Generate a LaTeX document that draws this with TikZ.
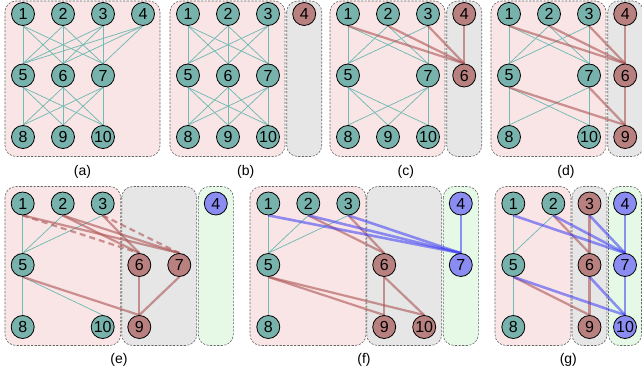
\documentclass[tikz,border=0pt]{standalone}
\usepackage{fontspec}
\setmainfont{Liberation Sans}
\usetikzlibrary{backgrounds}
\definecolor{tealn}{HTML}{78B2AC}
\definecolor{redn}{HTML}{B98080}
\definecolor{bluen}{HTML}{8B8CF2}
\definecolor{tealE}{HTML}{72BAB4}
\definecolor{redE}{HTML}{AD5454}
\definecolor{blueE}{HTML}{3C3CF5}
\definecolor{pinkB}{HTML}{F9E5E5}
\definecolor{grayB}{HTML}{E6E6E6}
\definecolor{greenB}{HTML}{E6F9E6}
\pgfdeclarelayer{bglayer}
\pgfdeclarelayer{edgelayer}
\pgfsetlayers{bglayer,edgelayer,main}
\tikzset{
  vx/.style={circle, draw=black, line width=0.8pt, minimum size=23pt, inner sep=0pt,
    font=\fontsize{16}{16}\selectfont},
  tn/.style={vx, fill=tealn},
  rn/.style={vx, fill=redn},
  bn/.style={vx, fill=bluen},
  grp/.style={draw=black!60, line width=0.6pt, dash pattern=on 2.2pt off 1.4pt, rounded corners=11pt},
  pinkbox/.style={grp, fill=pinkB},
  graybox/.style={grp, fill=grayB},
  greenbox/.style={grp, fill=greenB},
  te/.style={draw=tealE, line width=0.75pt},
  re/.style={draw=redE, line width=2.2pt, draw opacity=0.6},
  red/.style={re, dash pattern=on 6pt off 4pt},
  be/.style={draw=blueE, line width=2.6pt, draw opacity=0.55},
  lab/.style={font=\fontsize{14}{14}\selectfont}
}
\newcommand\myedge[3]{\draw[#1] (#2.south) -- (#3.north);}
\begin{document}
\begin{tikzpicture}[x=1pt,y=-1pt]
\useasboundingbox (0,0) rectangle (642,377);
\clip (0,0) rectangle (642,377);
% ---------- boxes ----------
\begin{pgfonlayer}{bglayer}
\fill[white] (0,0) rectangle (642,377);
\draw[pinkbox] (5,1) rectangle (160,156.5);
\draw[pinkbox] (170,1) rectangle (285,156.5);
\draw[graybox] (286.7,1) rectangle (321.7,156.5);
\draw[pinkbox] (330,1) rectangle (445,156.5);
\draw[graybox] (446.7,1) rectangle (481.7,156.5);
\draw[pinkbox] (491,1) rectangle (606,156.5);
\draw[graybox] (607.7,1) rectangle (643.5,156.5);
\draw[pinkbox] (5,186.5) rectangle (120.7,345.5);
\draw[graybox] (121.7,186.5) rectangle (196.7,345.5);
\draw[greenbox] (198.3,186.5) rectangle (233.3,345.5);
\draw[pinkbox] (250,186.5) rectangle (366,345.5);
\draw[graybox] (366.7,186.5) rectangle (441.7,345.5);
\draw[greenbox] (443.3,186.5) rectangle (478.3,345.5);
\draw[pinkbox] (495,186.5) rectangle (571,345.5);
\draw[graybox] (572,186.5) rectangle (607,345.5);
\draw[greenbox] (608.5,186.5) rectangle (641.5,345.5);
\end{pgfonlayer}
% ---------- panel (a) ----------
\node[tn] (a1) at (23,14) {1};
\node[tn] (a2) at (63,14) {2};
\node[tn] (a3) at (103,14) {3};
\node[tn] (a4) at (143,14) {4};
\node[tn] (a5) at (23,75.5) {5};
\node[tn] (a6) at (63,75.5) {6};
\node[tn] (a7) at (103,75.5) {7};
\node[tn] (a8) at (23,137) {8};
\node[tn] (a9) at (63,137) {9};
\node[tn] (a10) at (103,137) {10};
\node[lab] (la) at (82.5,172) {(a)};
% ---------- panel (b) ----------
\node[tn] (b1) at (188,14) {1};
\node[tn] (b2) at (228,14) {2};
\node[tn] (b3) at (268,14) {3};
\node[rn] (b4) at (304.2,14) {4};
\node[tn] (b5) at (188,75.5) {5};
\node[tn] (b6) at (228,75.5) {6};
\node[tn] (b7) at (268,75.5) {7};
\node[tn] (b8) at (188,137) {8};
\node[tn] (b9) at (228,137) {9};
\node[tn] (b10) at (268,137) {10};
\node[lab] (lb) at (245.8,172) {(b)};
% ---------- panel (c) ----------
\node[tn] (c1) at (348,14) {1};
\node[tn] (c2) at (388,14) {2};
\node[tn] (c3) at (428,14) {3};
\node[rn] (c4) at (464.2,14) {4};
\node[tn] (c5) at (348,75.5) {5};
\node[rn] (c6) at (464.2,75.5) {6};
\node[tn] (c7) at (428,75.5) {7};
\node[tn] (c8) at (348,137) {8};
\node[tn] (c9) at (388,137) {9};
\node[tn] (c10) at (428,137) {10};
\node[lab] (lc) at (405.8,172) {(c)};
% ---------- panel (d) ----------
\node[tn] (d1) at (509,14) {1};
\node[tn] (d2) at (549,14) {2};
\node[tn] (d3) at (589,14) {3};
\node[rn] (d4) at (625.2,14) {4};
\node[tn] (d5) at (509,75.5) {5};
\node[rn] (d6) at (625.2,75.5) {6};
\node[tn] (d7) at (589,75.5) {7};
\node[tn] (d8) at (509,137) {8};
\node[rn] (d9) at (625.2,137) {9};
\node[tn] (d10) at (589,137) {10};
\node[lab] (ld) at (566,172) {(d)};
% ---------- panel (e) ----------
\node[tn] (e1) at (22.7,203.5) {1};
\node[tn] (e2) at (62.7,203.5) {2};
\node[tn] (e3) at (102.7,203.5) {3};
\node[bn] (e4) at (215.8,203.5) {4};
\node[tn] (e5) at (22.7,265) {5};
\node[rn] (e6) at (139.3,265) {6};
\node[rn] (e7) at (179.3,265) {7};
\node[tn] (e8) at (22.7,327) {8};
\node[rn] (e9) at (139.3,327) {9};
\node[tn] (e10) at (102.7,327) {10};
\node[lab] (le) at (119,360) {(e)};
% ---------- panel (f) ----------
\node[tn] (f1) at (268.3,203.5) {1};
\node[tn] (f2) at (308.3,203.5) {2};
\node[tn] (f3) at (348.3,203.5) {3};
\node[bn] (f4) at (460.8,203.5) {4};
\node[tn] (f5) at (268.3,265) {5};
\node[rn] (f6) at (384.2,265) {6};
\node[bn] (f7) at (460.8,265) {7};
\node[tn] (f8) at (268.3,327) {8};
\node[rn] (f9) at (384.2,327) {9};
\node[rn] (f10) at (424.2,327) {10};
\node[lab] (lf) at (364,360) {(f)};
% ---------- panel (g) ----------
\node[tn] (g1) at (513.3,203.5) {1};
\node[tn] (g2) at (553.3,203.5) {2};
\node[rn] (g3) at (589.5,203.5) {3};
\node[bn] (g4) at (625,203.5) {4};
\node[tn] (g5) at (513.3,265) {5};
\node[rn] (g6) at (589.5,265) {6};
\node[bn] (g7) at (625,265) {7};
\node[tn] (g8) at (513.3,327) {8};
\node[rn] (g9) at (589.5,327) {9};
\node[bn] (g10) at (625,327) {10};
\node[lab] (lg) at (568.3,360) {(g)};
% ---------- edges ----------
\begin{pgfonlayer}{edgelayer}
% (a)
\foreach \u in {1,2,3,4}{\foreach \v in {5,6,7}{\myedge{te}{a\u}{a\v}}}
\foreach \u in {5,6,7}{\foreach \v in {8,9,10}{\myedge{te}{a\u}{a\v}}}
% (b)
\foreach \u in {1,2,3}{\foreach \v in {5,6,7}{\myedge{te}{b\u}{b\v}}}
\foreach \u in {5,6,7}{\foreach \v in {8,9,10}{\myedge{te}{b\u}{b\v}}}
% (c)
\foreach \u in {1,2,3}{\foreach \v in {5,7}{\myedge{te}{c\u}{c\v}}}
\foreach \u in {5,7}{\foreach \v in {8,9,10}{\myedge{te}{c\u}{c\v}}}
\foreach \u in {1,2,3,4}{\myedge{re}{c\u}{c6}}
% (d)
\foreach \u in {1,2,3}{\foreach \v in {5,7}{\myedge{te}{d\u}{d\v}}}
\foreach \u in {5,7}{\foreach \v in {8,10}{\myedge{te}{d\u}{d\v}}}
\foreach \u in {1,2,3,4}{\myedge{re}{d\u}{d6}}
\foreach \u in {5,6,7}{\myedge{re}{d\u}{d9}}
% (e)
\foreach \u in {1,2,3}{\myedge{te}{e\u}{e5}}
\myedge{te}{e5}{e8}
\myedge{te}{e5}{e10}
\myedge{red}{e1}{e6}
\myedge{re}{e2}{e6}
\myedge{re}{e3}{e6}
\myedge{re}{e1}{e7}
\myedge{re}{e2}{e7}
\myedge{red}{e3}{e7}
\foreach \u in {5,6,7}{\myedge{re}{e\u}{e9}}
% (f)
\foreach \u in {1,2,3}{\myedge{te}{f\u}{f5}}
\myedge{te}{f5}{f8}
\myedge{re}{f2}{f6}
\myedge{re}{f3}{f6}
\foreach \u in {5,6}{\foreach \v in {9,10}{\myedge{re}{f\u}{f\v}}}
\foreach \u in {1,2,3,4}{\myedge{be}{f\u}{f7}}
% (g)
\foreach \u in {1,2}{\myedge{te}{g\u}{g5}}
\myedge{te}{g5}{g8}
\myedge{re}{g2}{g6}
\myedge{re}{g3}{g6}
\myedge{re}{g5}{g9}
\myedge{re}{g6}{g9}
\foreach \u in {1,2,3,4}{\myedge{be}{g\u}{g7}}
\foreach \u in {5,6,7}{\myedge{be}{g\u}{g10}}
\end{pgfonlayer}
\end{tikzpicture}
\end{document}
